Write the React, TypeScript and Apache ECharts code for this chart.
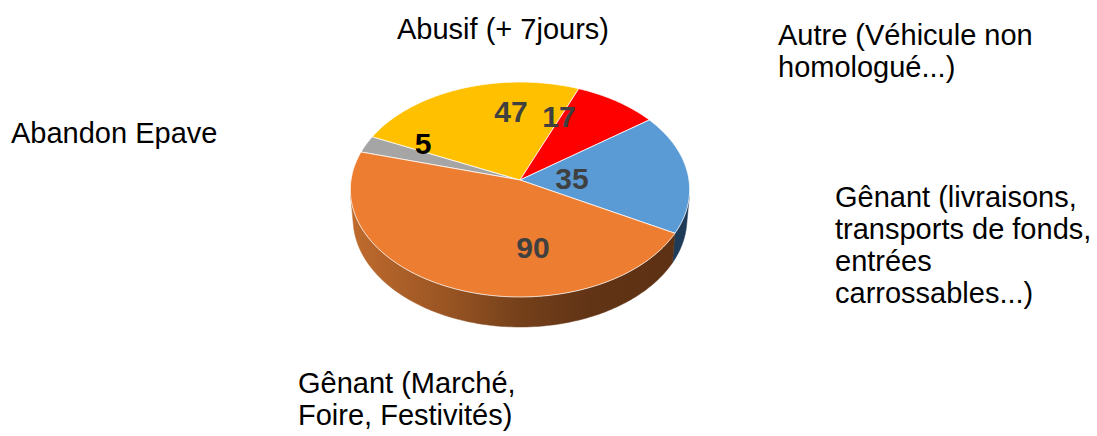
import React, { useEffect, useRef } from "react";
import * as echarts from "echarts";

// ---------- data ----------
const categories = [
  "Abandon Epave",
  "Abusif (+ 7jours)",
  "Autre (Véhicule non\nhomologué...)",
  "Gênant (livraisons,\ntransports de fonds,\nentrées\ncarrossables...)",
  "Gênant (Marché,\nFoire, Festivités)",
];
const values = [5, 47, 17, 35, 90];

// ---------- styles ----------
const topColors = ["#A5A5A5", "#FFC000", "#FF0000", "#5B9BD5", "#ED7D31"];
const sideColors = ["#5E5E5E", "#8F6C00", "#8F0000", "#1F3B57", "gradient"];
const valueLabelColors = ["#000000", "#404040", "#404040", "#404040", "#404040"];
const firstSliceAngle = 285.6; // degrees, clockwise from the far (top) point

// ---------- layout ----------
const valueLabelPos = [
  [423, 143],
  [511, 111],
  [559, 116],
  [572, 178],
  [533, 247],
];
const categoryLabelPos = [
  [11, 117],
  [397, 13],
  [778, 19],
  [835, 181],
  [298, 367],
];

// 3D projection parameters (perspective view of a tilted disc)
const CX = 520;
const CY = 180;
const K = 1482;
const DIST = 8.77;
const COS_A = 0.776;
const SIN_A = 0.631;
const HEIGHT = 0.227;

const total = values.reduce((a, b) => a + b, 0);

function proj(thetaDeg: number, r: number, y: number): number[] {
  const t = (thetaDeg * Math.PI) / 180;
  const X = r * Math.sin(t);
  const Z = r * Math.cos(t);
  const w = DIST + Z * COS_A - y * SIN_A;
  return [CX + (K * X) / w, CY - (K * (y * COS_A + Z * SIN_A)) / w];
}

function sliceRange(i: number, v: number): number[] {
  let start = firstSliceAngle;
  for (let j = 0; j < i; j++) start += (values[j] / total) * 360;
  return [start, start + (v / total) * 360];
}

const visMin = (Math.acos(-1 / (DIST * COS_A)) * 180) / Math.PI;
const visMax = 360 - visMin;

function arcPoints(s: number, e: number, y: number): number[][] {
  const n = Math.max(2, Math.ceil((e - s) / 1));
  const pts: number[][] = [];
  for (let k = 0; k <= n; k++) pts.push(proj(s + ((e - s) * k) / n, 1, y));
  return pts;
}

const FONT = '"Liberation Sans", Arial, Helvetica, sans-serif';

export default function App() {
  const ref = useRef<HTMLDivElement>(null);
  useEffect(() => {
    if (!ref.current) return;
    const chart = echarts.init(ref.current, undefined, { renderer: "svg" });
    const orangeSide = new echarts.graphic.LinearGradient(
      350,
      0,
      690,
      0,
      [
        { offset: 0, color: "#C06B2E" },
        { offset: 0.28, color: "#9A5523" },
        { offset: 0.5, color: "#74401A" },
        { offset: 0.7, color: "#623416" },
        { offset: 1, color: "#5C3013" },
      ],
      true
    );
    const data = values.map((v) => [v]);
    chart.setOption({
      animation: false,
      backgroundColor: "#ffffff",
      series: [
        {
          type: "custom",
          coordinateSystem: "none",
          z: 1,
          data,
          renderItem: (params: any, api: any) => {
            const i = params.dataIndex;
            const [s0, e0] = sliceRange(i, api.value(0));
            const children: any[] = [];
            for (const off of [0, 360, 720]) {
              const s = Math.max(s0, visMin + off);
              const e = Math.min(e0, visMax + off);
              if (e > s) {
                const top = arcPoints(s, e, 0);
                const bottom = arcPoints(s, e, -HEIGHT).reverse();
                children.push({
                  type: "polygon",
                  shape: { points: top.concat(bottom) },
                  style: {
                    fill: sideColors[i] === "gradient" ? orangeSide : sideColors[i],
                    stroke: sideColors[i] === "gradient" ? orangeSide : sideColors[i],
                    lineWidth: 0.5,
                  },
                });
              }
            }
            return { type: "group", children };
          },
        },
        {
          type: "custom",
          coordinateSystem: "none",
          z: 2,
          data,
          renderItem: (params: any, api: any) => {
            const i = params.dataIndex;
            const [s, e] = sliceRange(i, api.value(0));
            const pts = [proj(0, 0, 0)].concat(arcPoints(s, e, 0));
            return {
              type: "polygon",
              shape: { points: pts },
              style: {
                fill: topColors[i],
                stroke: "rgba(255,255,255,0.75)",
                lineWidth: 1,
                lineJoin: "round",
              },
            };
          },
        },
        {
          type: "custom",
          coordinateSystem: "none",
          z: 3,
          data,
          renderItem: (params: any, api: any) => {
            const i = params.dataIndex;
            return {
              type: "group",
              children: [
                {
                  type: "text",
                  x: valueLabelPos[i][0],
                  y: valueLabelPos[i][1],
                  style: {
                    text: String(api.value(0)),
                    fill: valueLabelColors[i],
                    font: "bold 30px " + FONT,
                    align: "center",
                    verticalAlign: "middle",
                  },
                },
                {
                  type: "text",
                  x: categoryLabelPos[i][0],
                  y: categoryLabelPos[i][1],
                  style: {
                    text: categories[i],
                    fill: "#000000",
                    font: "29px " + FONT,
                    lineHeight: 32,
                    align: "left",
                    verticalAlign: "top",
                  },
                },
              ],
            };
          },
        },
      ],
    });
    return () => chart.dispose();
  }, []);
  return (
    <div
      ref={ref}
      style={{ position: "fixed", left: 0, top: 0, width: 1097, height: 436 }}
    />
  );
}
